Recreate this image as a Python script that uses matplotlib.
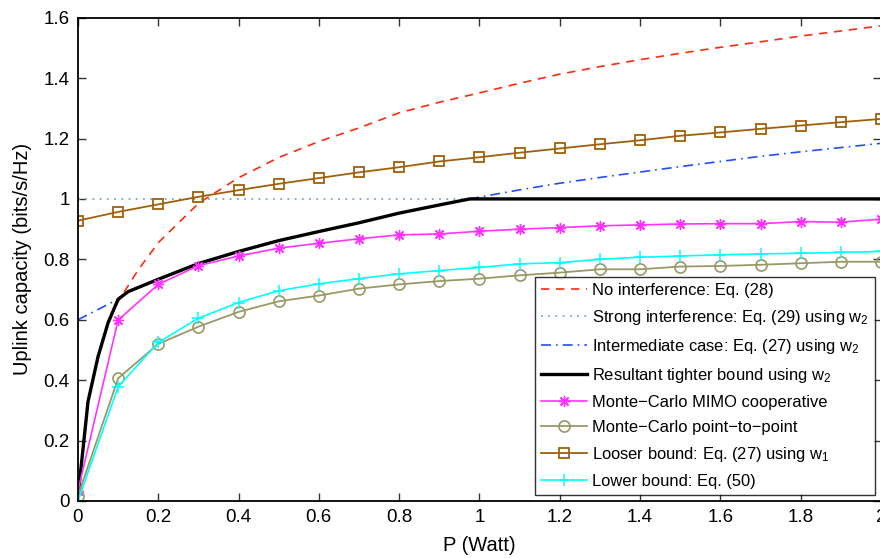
import matplotlib
matplotlib.use("Agg")
import matplotlib.pyplot as plt

plt.rcParams['font.family'] = ['Liberation Sans', 'DejaVu Sans']
plt.rcParams['mathtext.fontset'] = 'custom'
plt.rcParams['mathtext.rm'] = 'Liberation Sans'
plt.rcParams['mathtext.it'] = 'Liberation Sans'

# ---- data ----
P_mc = [0, 0.1, 0.2, 0.3, 0.4, 0.5, 0.6, 0.7, 0.8, 0.9, 1.0,
        1.1, 1.2, 1.3, 1.4, 1.5, 1.6, 1.7, 1.8, 1.9, 2.0]

mimo_coop = [0.034, 0.599, 0.717, 0.779, 0.811, 0.837, 0.853, 0.868, 0.881, 0.884, 0.893,
             0.900, 0.905, 0.911, 0.914, 0.917, 0.918, 0.918, 0.925, 0.923, 0.933]
p2p = [0.017, 0.406, 0.520, 0.577, 0.626, 0.661, 0.680, 0.703, 0.717, 0.728, 0.736,
       0.747, 0.756, 0.767, 0.767, 0.776, 0.778, 0.782, 0.787, 0.792, 0.792]
looser = [0.928, 0.957, 0.982, 1.007, 1.029, 1.050, 1.069, 1.088, 1.105, 1.124, 1.138,
          1.153, 1.167, 1.181, 1.194, 1.209, 1.220, 1.232, 1.243, 1.254, 1.265]
lower = [0.0, 0.378, 0.525, 0.605, 0.657, 0.696, 0.719, 0.736, 0.752, 0.763, 0.773,
         0.785, 0.789, 0.800, 0.807, 0.811, 0.815, 0.818, 0.820, 0.823, 0.826]

P_noint = [0, 0.025, 0.05, 0.075, 0.1, 0.15, 0.2, 0.3, 0.4, 0.5, 0.6, 0.7, 0.8, 0.9, 1.0,
           1.1, 1.2, 1.3, 1.4, 1.5, 1.6, 1.7, 1.8, 1.9, 2.0]
no_interf = [0.02, 0.329, 0.478, 0.59, 0.66, 0.765, 0.855, 0.985, 1.07, 1.137, 1.19, 1.235,
             1.285, 1.32, 1.351, 1.383, 1.413, 1.438, 1.461, 1.482, 1.502, 1.52, 1.539, 1.556, 1.573]

P_strong = [0, 2.0]
strong = [1.0, 1.0]

P_inter = [0, 0.1, 0.125, 0.2, 0.3, 0.4, 0.5, 0.6, 0.7, 0.8, 0.9, 0.976, 1.0,
           1.1, 1.2, 1.3, 1.4, 1.5, 1.6, 1.7, 1.8, 1.9, 2.0]
intermediate = [0.600, 0.668, 0.693, 0.734, 0.786, 0.826, 0.862, 0.892, 0.921, 0.953, 0.980, 1.0, 1.006,
                1.030, 1.052, 1.071, 1.089, 1.107, 1.124, 1.141, 1.156, 1.170, 1.184]

P_tight = [0, 0.025, 0.05, 0.075, 0.1, 0.125, 0.2, 0.3, 0.4, 0.5, 0.6, 0.7, 0.8, 0.9, 0.976, 2.0]
tighter = [0.014, 0.329, 0.478, 0.59, 0.668, 0.693, 0.734, 0.786, 0.826, 0.862, 0.892, 0.921,
           0.953, 0.980, 1.0, 1.0]

xticks = [0, 0.2, 0.4, 0.6, 0.8, 1, 1.2, 1.4, 1.6, 1.8, 2]
xticklabels = ['0', '0.2', '0.4', '0.6', '0.8', '1', '1.2', '1.4', '1.6', '1.8', '2']
yticks = [0, 0.2, 0.4, 0.6, 0.8, 1, 1.2, 1.4, 1.6]
yticklabels = ['0', '0.2', '0.4', '0.6', '0.8', '1', '1.2', '1.4', '1.6']

# ---- figure ----
fig = plt.figure(figsize=(8.8, 5.58), dpi=100)
ax = fig.add_axes([0.0886, 0.1022, 0.9125, 0.8661])

ax.plot(P_noint, no_interf, linestyle=(0, (5, 4)), color='#ff2a10', lw=1.2,
        label='No interference: Eq. (28)')
ax.plot(P_strong, strong, linestyle=(0, (1, 3)), color='#70b0b0', lw=1.3,
        label=r'Strong interference: Eq. (29) using w$_2$')
ax.plot(P_inter, intermediate, linestyle=(0, (6, 3, 1, 3)), color='#1f4fff', lw=1.2,
        label=r'Intermediate case: Eq. (27) using w$_2$')
ax.plot(P_tight, tighter, color='black', lw=2.4,
        label=r'Resultant tighter bound using w$_2$')
ax.plot(P_mc, mimo_coop, color='#ff33ff', lw=1.2, marker=(8, 2, 0), markersize=8,
        markeredgewidth=1.0, label='Monte\u2212Carlo MIMO cooperative')
ax.plot(P_mc, p2p, color='#999966', lw=1.3, marker='o', markersize=8,
        markerfacecolor='none', markeredgewidth=1.2, label='Monte\u2212Carlo point\u2212to\u2212point')
ax.plot(P_mc, looser, color='#a0600a', lw=1.3, marker='s', markersize=6.5,
        markerfacecolor='none', markeredgewidth=1.3, label=r'Looser bound: Eq. (27) using w$_1$')
ax.plot(P_mc, lower, color='#00ffff', lw=1.2, marker='+', markersize=9,
        markeredgewidth=1.1, label='Lower bound: Eq. (50)')

ax.set_xlim(0, 2)
ax.set_ylim(0, 1.6)
ax.set_xticks(xticks)
ax.set_xticklabels(xticklabels)
ax.set_yticks(yticks)
ax.set_yticklabels(yticklabels)
ax.tick_params(direction='in', length=6, width=1.0, top=True, right=True,
               labelsize=13.5, pad=6, color='#333333')
for s in ax.spines.values():
    s.set_linewidth(1.3)
    s.set_color('black')

ax.set_xlabel('P (Watt)', fontsize=14.5, labelpad=7)
ax.set_ylabel('Uplink capacity (bits/s/Hz)', fontsize=14.5, labelpad=8)

leg = ax.legend(loc='lower right', fontsize=11.9, frameon=True, fancybox=False,
                edgecolor='black', handlelength=2.75, handletextpad=0.3,
                labelspacing=0.6, borderaxespad=0.35, borderpad=0.4)
leg.get_frame().set_linewidth(1.0)

fig.savefig('out.png', dpi=100)
